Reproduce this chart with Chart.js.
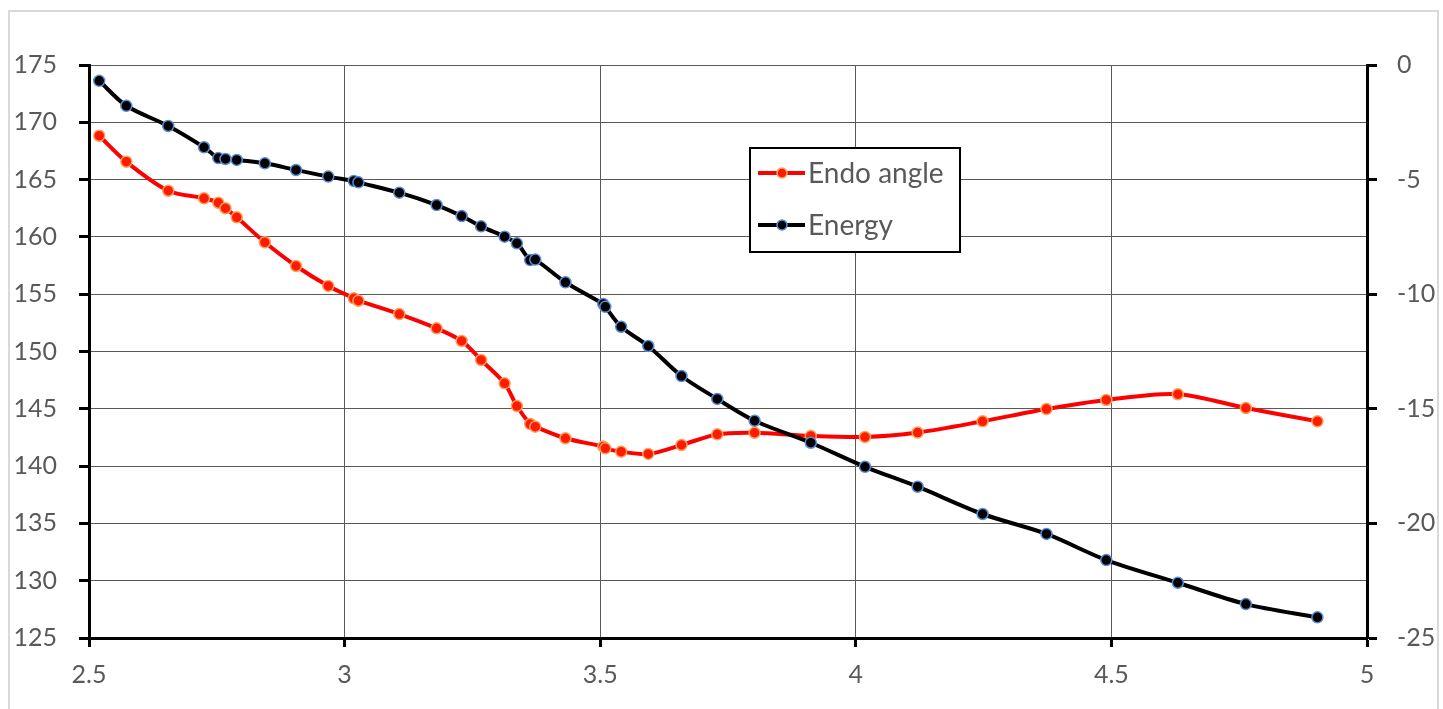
<!DOCTYPE html>
<html>
<head>
<meta charset="utf-8">
<title>Endo angle / Energy</title>
<script src="https://cdn.jsdelivr.net/npm/chart.js@4.4.1/dist/chart.umd.min.js"></script>
<style>
  html, body { margin: 0; padding: 0; background: #fff; overflow: hidden; }
  #frame {
    position: absolute; left: 8px; top: 10px; width: 1431px; height: 720px;
    border: 2px solid #d9d9d9; box-sizing: border-box;
  }
  #wrap { position: absolute; left: 0; top: 0; width: 1443px; height: 709px; }
</style>
</head>
<body>
<div id="frame"></div>
<div id="wrap"><canvas id="chart1"></canvas></div>
<script>
// x values shared by both series
var xValues = [2.52, 2.573, 2.655, 2.725, 2.753, 2.767, 2.789, 2.844, 2.905, 2.968,
  3.018, 3.027, 3.107, 3.18, 3.229, 3.267, 3.313, 3.337, 3.363, 3.373,
  3.432, 3.506, 3.51, 3.541, 3.594, 3.659, 3.729, 3.802, 3.912, 4.018,
  4.121, 4.248, 4.373, 4.49, 4.63, 4.763, 4.903];

var angleValues = [168.83, 166.56, 164.03, 163.37, 162.98, 162.5, 161.71, 159.53, 157.46, 155.72,
  154.64, 154.43, 153.27, 152.02, 150.92, 149.26, 147.22, 145.24, 143.67, 143.44,
  142.43, 141.7, 141.55, 141.26, 141.06, 141.84, 142.77, 142.91, 142.63, 142.54,
  142.93, 143.91, 144.98, 145.77, 146.27, 145.07, 143.91];

var energyValues = [-0.69, -1.78, -2.66, -3.59, -4.06, -4.1, -4.14, -4.29, -4.58, -4.87,
  -5.06, -5.12, -5.57, -6.11, -6.59, -7.04, -7.49, -7.78, -8.51, -8.49,
  -9.48, -10.43, -10.55, -11.42, -12.26, -13.57, -14.57, -15.52, -16.48, -17.53,
  -18.4, -19.59, -20.46, -21.6, -22.59, -23.52, -24.1];

var seriesLabels = ['Endo angle', 'Energy'];

function pts(ys) {
  return xValues.map(function(x, i) { return {x: x, y: ys[i]}; });
}

// legend box drawn inside the plot
var boxLegend = {
  id: 'boxLegend',
  afterDraw: function(chart) {
    var c = chart.ctx;
    var bx = 750, by = 148, bw = 210, bh = 104;
    c.save();
    c.fillStyle = '#fff';
    c.fillRect(bx, by, bw, bh);
    c.lineWidth = 2;
    c.strokeStyle = '#000';
    c.strokeRect(bx, by, bw, bh);
    var rows = [173, 225];
    chart.data.datasets.forEach(function(ds, i) {
      var y = rows[i];
      c.beginPath();
      c.strokeStyle = ds.borderColor;
      c.lineWidth = 4;
      c.moveTo(758, y);
      c.lineTo(805, y);
      c.stroke();
      c.beginPath();
      c.arc(782, y, 5, 0, Math.PI * 2);
      c.fillStyle = ds.pointBackgroundColor;
      c.fill();
      c.lineWidth = 1.5;
      c.strokeStyle = ds.pointBorderColor;
      c.stroke();
      c.fillStyle = '#595959';
      c.font = '28px Lato';
      c.textBaseline = 'middle';
      c.textAlign = 'left';
      c.fillText(ds.label, 808, y + 1);
    });
    c.restore();
  }
};

var tickFont = { family: 'Lato', size: 25 };

var ctx = document.getElementById('chart1').getContext('2d');
var myChart = new Chart(ctx, {
  type: 'line',
  data: {
    datasets: [{
      label: seriesLabels[0],
      data: pts(angleValues),
      yAxisID: 'y',
      order: 1,
      borderColor: '#ff0000',
      borderWidth: 4,
      pointRadius: 5.5,
      pointBackgroundColor: '#ff1a00',
      pointBorderColor: '#f7a35c',
      pointBorderWidth: 1.5,
      tension: 0.3
    }, {
      label: seriesLabels[1],
      data: pts(energyValues),
      yAxisID: 'y1',
      order: 0,
      borderColor: '#000000',
      borderWidth: 4,
      pointRadius: 5.5,
      pointBackgroundColor: '#000000',
      pointBorderColor: '#5b8ad6',
      pointBorderWidth: 1.5,
      tension: 0.3
    }]
  },
  options: {
    responsive: false,
    maintainAspectRatio: false,
    animation: false,
    devicePixelRatio: 1,
    layout: { padding: { left: 0, right: 0, top: 65, bottom: 0 } },
    plugins: {
      legend: { display: false },
      tooltip: { enabled: false }
    },
    scales: {
      x: {
        type: 'linear',
        min: 2.5,
        max: 5,
        ticks: {
          stepSize: 0.5, color: '#595959', font: tickFont, padding: 13, maxRotation: 0,
          callback: function(v) { return String(v); }
        },
        grid: { color: '#595959', lineWidth: 1, tickLength: 9, tickColor: '#000', tickWidth: 3 },
        border: { color: '#000', width: 3 },
        afterFit: function(s) { s.height = 71; }
      },
      y: {
        position: 'left',
        min: 125,
        max: 175,
        ticks: { stepSize: 5, color: '#595959', font: tickFont, padding: 22 },
        grid: { color: '#595959', lineWidth: 1, tickLength: 10, tickColor: '#000', tickWidth: 3 },
        border: { color: '#000', width: 3 },
        afterFit: function(s) { s.width = 89; }
      },
      y1: {
        position: 'right',
        min: -25,
        max: 0,
        ticks: { stepSize: 5, color: '#595959', font: tickFont, padding: 20 },
        grid: { drawOnChartArea: false, tickLength: 10, tickColor: '#000', tickWidth: 3 },
        border: { color: '#000', width: 3 },
        afterFit: function(s) { s.width = 76; }
      }
    }
  },
  plugins: [boxLegend]
});
myChart.resize(1443, 709);
</script>
</body>
</html>
